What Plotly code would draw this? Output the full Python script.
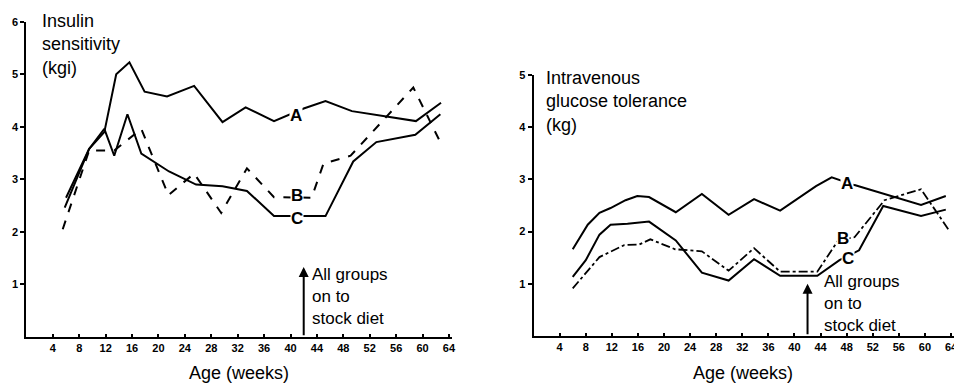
import plotly.graph_objects as go

# ---------------- data ----------------
# Left panel: insulin sensitivity (kgi)
ins_weeks_A = [6, 9.5, 11.8, 13.6, 15.6, 17.9, 21.3, 25.4, 29.7, 33.2, 37.5, 42, 45.3, 49.3, 59, 62.8]
ins_A = [2.65, 3.58, 3.9, 5.0, 5.23, 4.67, 4.58, 4.78, 4.09, 4.37, 4.11, 4.35, 4.49, 4.30, 4.11, 4.46]

ins_weeks_B = [5.5, 9.5, 13.3, 17.4, 21.5, 25.4, 29.5, 33.4, 37.5, 43.2, 45, 49.1, 58.6, 62.8]
ins_B = [2.05, 3.55, 3.55, 3.96, 2.7, 3.11, 2.36, 3.21, 2.66, 2.65, 3.30, 3.45, 4.75, 3.68]

ins_weeks_C = [5.8, 9.5, 11.8, 13.3, 15.3, 17.4, 21.6, 25.7, 29.7, 33.4, 37.5, 45.3, 49.5, 53, 58.9, 62.7]
ins_C = [2.46, 3.58, 3.96, 3.45, 4.24, 3.49, 3.15, 2.9, 2.87, 2.78, 2.3, 2.3, 3.34, 3.71, 3.85, 4.24]

# Right panel: intravenous glucose tolerance (kg)
glu_weeks_A = [6.0, 8.3, 10.1, 11.8, 14.1, 15.9, 17.7, 21.8, 25.8, 29.9, 33.8, 37.8, 43.3, 45.7, 49.2, 59.4, 63.2]
glu_A = [1.66, 2.13, 2.36, 2.45, 2.60, 2.68, 2.66, 2.37, 2.72, 2.32, 2.62, 2.40, 2.87, 3.04, 2.89, 2.51, 2.68]

glu_weeks_B = [6.0, 10.1, 13.9, 16.2, 17.9, 21.7, 25.8, 29.9, 33.8, 37.8, 43.5, 46.7, 49.2, 53.8, 59.4, 63.7]
glu_B = [0.91, 1.51, 1.74, 1.75, 1.85, 1.66, 1.62, 1.25, 1.68, 1.23, 1.23, 1.83, 1.89, 2.60, 2.81, 2.02]

glu_weeks_C = [6.0, 8.0, 10.1, 11.8, 14.4, 17.7, 21.8, 25.8, 29.9, 33.8, 37.8, 43.5, 46.9, 49.9, 53.6, 59.4, 63.2]
glu_C = [1.13, 1.45, 1.94, 2.13, 2.15, 2.19, 1.83, 1.21, 1.06, 1.47, 1.15, 1.15, 1.45, 1.64, 2.49, 2.30, 2.42]

x_ticks = [4, 8, 12, 16, 20, 24, 28, 32, 36, 40, 44, 48, 52, 56, 60, 64]
x_tick_labels = [str(v) for v in x_ticks]
ins_y_ticks = [1, 2, 3, 4, 5, 6]
glu_y_ticks = [1, 2, 3, 4, 5]

diet_change_week = 42

# ---------------- figure ----------------
# the page body has an 8px margin, so the figure is placed at (8, 8)
OFF = 8
W, H = 962 - OFF, 388 - OFF
FONT = "Liberation Sans, Arial, Helvetica, sans-serif"


def px_x(p):
    return (p - OFF) / W


def px_y(p):
    return 1 - (p - OFF) / H


fig = go.Figure()

line_solid = dict(color="black", width=2)
line_dash = dict(color="black", width=2, dash="dash")
line_dashdot = dict(color="black", width=1.8, dash="dashdot")

fig.add_trace(go.Scatter(x=ins_weeks_A, y=ins_A, mode="lines", line=line_solid, xaxis="x", yaxis="y"))
fig.add_trace(go.Scatter(x=ins_weeks_B, y=ins_B, mode="lines", line=line_dash, xaxis="x", yaxis="y"))
fig.add_trace(go.Scatter(x=ins_weeks_C, y=ins_C, mode="lines", line=line_solid, xaxis="x", yaxis="y"))

fig.add_trace(go.Scatter(x=glu_weeks_A, y=glu_A, mode="lines", line=line_solid, xaxis="x2", yaxis="y2"))
fig.add_trace(go.Scatter(x=glu_weeks_B, y=glu_B, mode="lines", line=line_dashdot, xaxis="x2", yaxis="y2"))
fig.add_trace(go.Scatter(x=glu_weeks_C, y=glu_C, mode="lines", line=line_solid, xaxis="x2", yaxis="y2"))

tickfont = dict(family=FONT, size=11, color="black", weight="bold")

xcommon = dict(range=[0, 64.5], tickvals=x_ticks, ticktext=x_tick_labels, showgrid=False,
               zeroline=False, showline=True, linecolor="black", linewidth=2,
               ticks="inside", ticklen=3, tickwidth=1.5, tickcolor="black", tickfont=tickfont)
ycommon = dict(showgrid=False, zeroline=False, showline=True, linecolor="black", linewidth=2,
               ticks="outside", ticklen=4, tickwidth=1.5, tickcolor="black", tickfont=tickfont)

# pixel geometry of the two panels (page pixels)
L_x0, L_x1 = 26.5, 26.5 + 64.5 * 6.63
L_y0, L_y1 = 336, 16
R_x0, R_x1 = 535.8, 535.8 + 64.5 * 6.55
R_y0, R_y1 = 335, 70

fig.update_layout(
    width=W, height=H,
    margin=dict(l=0, r=0, t=0, b=0),
    paper_bgcolor="white", plot_bgcolor="white",
    showlegend=False,
    font=dict(family=FONT, color="black"),
    xaxis=dict(domain=[px_x(L_x0), px_x(L_x1)], anchor="y", **xcommon),
    yaxis=dict(domain=[px_y(L_y0), px_y(L_y1)], anchor="x", range=[0, 6], tickvals=ins_y_ticks, **ycommon),
    xaxis2=dict(domain=[px_x(R_x0), min(1.0, px_x(R_x1))], anchor="y2", **xcommon),
    yaxis2=dict(domain=[px_y(R_y0), px_y(R_y1)], anchor="x2", range=[0, 5], tickvals=glu_y_ticks, **ycommon),
)

ann = []
label_font = dict(family=FONT, size=17, color="black", weight="bold")
text_font = dict(family=FONT, size=18, color="black")
note_font = dict(family=FONT, size=17, color="black")

# curve labels (white background cuts the line as in the original)
for xr, yr, x, y, t in [
    ("x", "y", 40.8, 4.22, "A"), ("x", "y", 41.0, 2.70, "B"), ("x", "y", 41.0, 2.25, "C"),
    ("x2", "y2", 48.0, 2.92, "A"), ("x2", "y2", 47.5, 1.86, "B"), ("x2", "y2", 48.2, 1.48, "C"),
]:
    ann.append(dict(xref=xr, yref=yr, x=x, y=y, text=t, showarrow=False, font=label_font,
                    bgcolor="white", borderpad=0))

# panel titles
ann.append(dict(xref="paper", yref="paper", x=px_x(40), y=px_y(39), xanchor="left", yanchor="middle",
                align="left", showarrow=False, font=text_font,
                text="Insulin<br>sensitivity<br>(kgi)"))
ann.append(dict(xref="paper", yref="paper", x=px_x(546), y=px_y(97), xanchor="left", yanchor="middle",
                align="left", showarrow=False, font=text_font,
                text="Intravenous<br>glucose tolerance<br>(kg)"))

# x axis titles
for cx in (240, 746):
    ann.append(dict(xref="paper", yref="paper", x=px_x(cx), y=px_y(373), xanchor="center", yanchor="middle",
                    showarrow=False, font=text_font, text="Age (weeks)"))

# diet change arrows
ann.append(dict(xref="x", yref="y", x=diet_change_week, y=1.33, axref="x", ayref="y",
                ax=diet_change_week, ay=0, text="", showarrow=True, arrowhead=2, arrowsize=1,
                arrowwidth=2, arrowcolor="black", standoff=0, startstandoff=0))
ann.append(dict(xref="x2", yref="y2", x=diet_change_week, y=1.0, axref="x2", ayref="y2",
                ax=diet_change_week, ay=0, text="", showarrow=True, arrowhead=2, arrowsize=1,
                arrowwidth=2, arrowcolor="black", standoff=0, startstandoff=0))

ann.append(dict(xref="paper", yref="paper", x=px_x(311), y=px_y(295), xanchor="left", yanchor="middle",
                align="left", showarrow=False, font=note_font,
                text="All groups<br>on to<br>stock diet"))
ann.append(dict(xref="paper", yref="paper", x=px_x(825), y=px_y(302), xanchor="left", yanchor="middle",
                align="left", showarrow=False, font=note_font,
                text="All groups<br>on to<br>stock diet"))

fig.update_layout(annotations=ann)

fig.write_html("out.html")
